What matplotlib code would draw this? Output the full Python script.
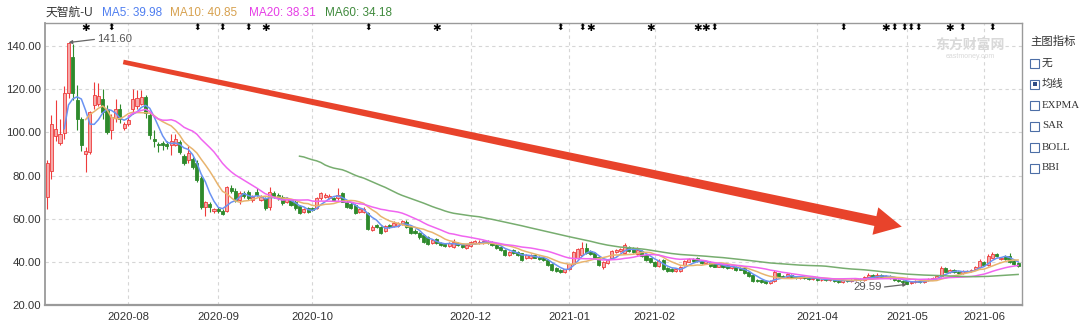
import matplotlib
matplotlib.use('Agg')
import matplotlib.pyplot as plt
import matplotlib.transforms as mtransforms
from matplotlib.patches import Rectangle, Polygon
import numpy as np
import pandas as pd

plt.rcParams['font.family'] = ['Liberation Sans', 'Noto Sans CJK SC', 'DejaVu Sans']

W, H = 1080, 324

#---- header / legend
stock_name = '天智航-U'
ma_labels = ['MA5: 39.98', 'MA10: 40.85', 'MA20: 38.31', 'MA60: 34.18']
ma_windows = [5, 10, 20, 60]
ma_text_colors = ['#4f7ef0', '#d7a14f', '#e63de6', '#3f8a3c']
ma_line_colors = ['#6a92f2', '#e8b46e', '#f065f0', '#77ad6f']

#---- trading calendar (trading days per month)
months = ['2020-07', '2020-08', '2020-09', '2020-10', '2020-11', '2020-12',
          '2021-01', '2021-02', '2021-03', '2021-04', '2021-05', '2021-06']
month_days = [19, 21, 22, 16, 21, 23, 20, 15, 23, 21, 18, 9]
shown_months = ['2020-08', '2020-09', '2020-10', '2020-12', '2021-01',
                '2021-02', '2021-04', '2021-05', '2021-06']

#---- daily prices
opens = [70, 82, 98.5, 95, 99.5, 118, 135, 115, 106, 90, 91, 112.5, 113, 115.5, 111, 101, 106.5, 111, 102,
         104, 111, 112, 113.3, 116.4, 108, 97, 94.7, 95, 94.5, 94, 94, 95.5, 89, 87, 87.7, 86, 79, 65.3, 66.8, 63.7,
         64.5, 63.7, 63.7, 74, 73, 68.5, 72, 72.5, 68.6, 72.5, 68.6, 69.4, 65.5, 71.7, 71, 70.2, 67.9, 68.6, 67.9, 65.9, 63.2, 64.8,
         64.8, 64.8, 69.4, 70.2, 69.5, 69.4, 69.4, 71.7, 67.9, 67, 66.3, 63, 63.2, 62.5, 54.7, 57,
         56, 54.3, 57, 56.6, 56.6, 57.5, 58.6, 56.3, 54.4, 53.5, 52.4, 51.3, 48.9, 50.4, 48.9, 48.2, 47.5, 47, 48.6, 47.8, 46.2,
         47.5, 48.5, 48.6, 48.5, 49.5, 49.3, 47.8, 47, 45.5, 43.2, 45.5, 44.7, 43.9, 41.6, 41.8, 43.2, 42.4, 42, 40.8, 39, 37, 36.2, 35.4,
         36.8, 38.8, 42, 43, 46.5, 45, 43.9, 42.4, 37.8, 39.5, 41.6, 44.5, 45, 44, 47, 46.2, 43.5, 45, 43.2, 41.6,
         39.8, 38.2, 40.8, 37, 36.6, 35.6, 35.6, 38.4, 40.1, 41.5, 41.6, 40.5, 39.4, 40, 38.9,
         37.8, 38.9, 38.4, 37, 37.6, 37.2, 37, 35.4, 33.9, 31.8, 31.4, 31.2, 30.2, 30.9, 34.6, 33.6, 32.8, 34, 33.1, 32.4, 33.1, 32.6, 31.9,
         32.1, 31.4, 31.9, 31.4, 31.9, 31.3, 30.8, 31.4, 30.9, 31.6, 32.1, 31.7, 32.8, 33.8, 33, 33.9, 33, 33.5, 32.6, 31.7, 31.1,
         30.9, 30, 30.7, 31.2, 30.8, 31.5, 31.9, 32.7, 33.5, 37, 35.4, 36.3, 35.5, 34.9, 35.5, 35.6, 36.5, 37.5,
         40, 38.6, 42, 43.8, 41.2, 42.8, 42.5, 40.5, 39.5]
highs = [87, 108, 115, 106, 121.5, 141.6, 141, 122, 107, 93, 110, 123.5, 123, 120, 112.5, 108.5, 115.5, 113, 105,
         108, 120, 119.5, 119.5, 117.5, 109.5, 101, 95.5, 96, 96, 99, 99.4, 96.5, 90, 93.5, 88.5, 87, 80, 68, 67.5, 65,
         65.5, 64.5, 75.3, 75.5, 74, 72.8, 73, 73.5, 70.8, 74, 70.8, 70.2, 74.8, 72.8, 71.8, 70.8, 70, 69.2, 68.5, 66.5, 65, 65.5,
         65.5, 70, 72.5, 72, 71.5, 70, 74, 72.2, 68.5, 67.5, 66.8, 65, 65.3, 63, 57, 57.6,
         56.5, 57.2, 57.6, 58.8, 58.5, 59.6, 59.2, 56.8, 55, 54, 53, 51.8, 50.6, 50.9, 49.4, 48.8, 49.4, 50.4, 49.2, 48.3, 48.3,
         49.8, 50.2, 49.9, 50.1, 50, 49.8, 48.3, 47.4, 46, 45.2, 45.9, 45.1, 44.3, 43.7, 43.7, 43.6, 42.8, 42.4, 41.2, 39.4, 37.4, 36.6, 36.9,
         39.2, 45, 46.5, 49, 48.5, 45.6, 44.4, 42.9, 40.5, 41.5, 45.7, 46, 46.3, 48.6, 47.5, 46.7, 46.7, 45.5, 43.7, 42,
         40.3, 41.2, 41.2, 37.5, 37, 37.2, 38, 41, 41.9, 41.9, 42.2, 40.9, 40.6, 40.4, 39.3,
         39.4, 39.3, 38.8, 38.4, 38, 37.6, 37.4, 35.8, 34.3, 32.2, 31.8, 31.6, 31.6, 36, 35, 34, 35, 34.4, 33.5, 33.6, 33.5, 33, 33,
         32.5, 32.2, 32.3, 32.4, 32.3, 31.7, 31.8, 31.8, 32.1, 32.5, 32.5, 33.4, 34.7, 34.2, 34.8, 34.3, 34, 33.9, 33, 32.1, 31.5,
         31.3, 31.2, 31.6, 31.6, 31.9, 32.4, 32.8, 33.7, 38.3, 37.5, 36.6, 36.7, 35.9, 36, 36.1, 36.7, 38.2, 41.2,
         40.4, 43.5, 44.7, 44.2, 42.3, 43.2, 43.9, 40.9, 39.9]
lows = [64.5, 78.5, 96, 94, 97, 116, 115, 101, 91.5, 81.5, 90, 111, 112, 106, 99, 97, 105, 104.5, 101,
        103, 108.7, 111, 112.5, 106.5, 97, 93, 91, 92, 92.5, 89.5, 93.5, 90, 85, 86, 83, 77, 64.5, 61.4, 63, 62.5,
        62.5, 61.5, 63, 72, 67.5, 67, 69.5, 68.8, 67.5, 70.5, 68, 64, 64, 69.6, 68.8, 66.5, 67.2, 65.8, 64.2, 62, 62.5, 62.8,
        63.5, 64.5, 68.8, 69.5, 69, 68, 68.8, 67.5, 65, 64.3, 62, 62.5, 62.8, 54.8, 54.2, 55.8,
        53, 53.8, 55.5, 56.2, 56, 57, 55.8, 52.8, 53, 50.8, 48.8, 47.8, 48.4, 48.2, 47.4, 46.8, 47.1, 46.6, 47.2, 46.4, 45.8,
        47.1, 48.1, 48.2, 48.1, 48.2, 47.4, 45.8, 45.1, 42.8, 42.8, 43.6, 42.8, 40.4, 41.2, 41.4, 41.6, 40.8, 40.4, 38.1, 35.8, 35.5, 35, 35,
        36.4, 38.4, 41.5, 42.5, 43.5, 43, 41.1, 38, 36.5, 39, 41.2, 44, 44.5, 43.6, 44.6, 44.3, 43.1, 42.4, 40.6, 39.4,
        37.5, 37.8, 36.2, 35.2, 35.3, 35.2, 35.2, 38, 39.7, 40, 39.8, 39, 39, 37.6, 37.4,
        37.4, 37.2, 36.6, 36.6, 35.9, 36, 34.4, 32.9, 30.6, 30.6, 30.1, 29.9, 29.8, 30.5, 32.6, 32.3, 32.4, 32.6, 32, 32, 32, 31.6, 31.5,
        31, 31, 31, 31, 30.8, 30.4, 30.4, 30.5, 30.5, 31.2, 31.3, 31.3, 32.4, 32.6, 32.6, 32.6, 32.6, 32.2, 31.2, 30.6, 30.2,
        29.59, 29.8, 30.3, 30.4, 30.4, 31.1, 31.5, 32.3, 33.1, 35.1, 35, 34.8, 34.4, 34.5, 35.1, 35.2, 36.1, 37.1,
        38.1, 38.2, 41.6, 42.4, 40.8, 41, 39.6, 38.4, 37.5]
closes = [86, 104, 101.5, 99, 118, 141.2, 118, 106, 94, 91.5, 109.5, 117.5, 117, 109.5, 100, 107, 111, 106, 104,
          105.5, 115.5, 116, 116.5, 109, 98.6, 96.2, 94, 94.3, 93.8, 96, 97, 91, 86, 90.5, 84, 77.7, 65.3, 67.6, 65.3, 64.5,
          63.5, 62.3, 74.5, 73, 68.5, 72, 70.5, 69.5, 70.2, 71, 70.2, 64.8, 72.5, 70.2, 69.4, 67.1, 69.4, 66.3, 64.8, 62.5, 64.3, 63.2,
          64, 69.4, 71.7, 71, 70.5, 68.6, 71, 67.9, 65.5, 64.8, 62.5, 64.3, 64.6, 55.2, 56.3, 56.3,
          53.5, 56.6, 56, 58.1, 57.8, 59, 56.3, 53.2, 53.5, 51.3, 49.3, 48.2, 50, 48.6, 47.8, 47.2, 48.9, 49.3, 47.6, 46.8, 47.8,
          49.3, 49.5, 49.3, 49.5, 48.6, 47.8, 46.2, 45.5, 43.2, 44.7, 44, 43.2, 40.8, 43.2, 43.2, 42, 41.2, 40.8, 38.5, 36.2, 35.9, 35.4, 36.5,
          38.8, 44.5, 46, 46.5, 44, 43.5, 41.6, 38.5, 40, 41, 45.2, 45.5, 45.8, 47.8, 45, 44.7, 45.5, 42.8, 41, 39.8,
          37.9, 40.4, 36.6, 35.6, 35.7, 36.8, 37.6, 40.6, 41.4, 40.4, 40.2, 39.4, 40.2, 38, 37.8,
          39, 37.6, 37, 38, 36.3, 36.4, 34.8, 33.3, 31, 31, 30.5, 30.4, 31.2, 35.2, 33, 32.7, 34.2, 33, 32.4, 33.2, 32.4, 32, 32.6,
          31.4, 31.8, 31.4, 32, 31.2, 30.8, 31.4, 30.9, 31.7, 32.1, 31.7, 33, 33.9, 33, 34, 33, 33.6, 32.6, 31.6, 31, 30.6,
          29.9, 30.8, 31.2, 30.8, 31.5, 32, 32.4, 33.3, 37.3, 35.5, 36.2, 35.2, 34.8, 35.6, 35.7, 36.3, 37.8, 40.5,
          38.5, 42.8, 43.8, 42.9, 41.9, 41.4, 40, 38.8, 37.9]

#---- event markers along the top (trading-day index)
star_days = [9, 51, 91, 127, 141, 152, 154, 196, 211]
arrow_days = [15, 35, 41, 47, 75, 120, 125, 156, 186, 198, 201, 202, 203, 214, 221]

#---- right side menu
panel_title = '主图指标'
panel_items = ['无', '均线', 'EXPMA', 'SAR', 'BOLL', 'BBI']
panel_checked = '均线'

RED = '#ee3b3b'
RED_FACE = '#f6a9a9'
GREEN = '#2e8a2c'


def runs(days):
    # group consecutive day indices so adjacent icons share one text
    groups = [[days[0]]]
    for d in days[1:]:
        if d == groups[-1][-1] + 1:
            groups[-1].append(d)
        else:
            groups.append([d])
    return groups


if __name__ == '__main__':

    o = np.array(opens)
    c = np.array(closes)
    hi = np.array(highs)
    lo = np.array(lows)
    x = np.arange(len(c))
    up = c >= o

    month_start = np.concatenate([[0], np.cumsum(month_days)[:-1]])
    tick_pos = [month_start[months.index(m)] for m in shown_months]

    fig = plt.figure(figsize=(W / 100, H / 100), dpi=100)
    ax = fig.add_axes([45 / W, 1 - 305 / H, (1022 - 45) / W, (305 - 23) / H])

    #---- candles
    body_bottom = np.minimum(o, c)
    body_h = np.maximum(np.abs(c - o), 0.3)
    ax.vlines(x[up], lo[up], hi[up], color=RED, lw=0.8, zorder=2)
    ax.vlines(x[~up], lo[~up], hi[~up], color=GREEN, lw=0.8, zorder=2)
    ax.bar(x[up], body_h[up], bottom=body_bottom[up], width=0.72,
           facecolor=RED_FACE, edgecolor=RED, linewidth=0.6, zorder=3)
    ax.bar(x[~up], body_h[~up], bottom=body_bottom[~up], width=0.72,
           facecolor=GREEN, edgecolor=GREEN, linewidth=0.6, zorder=3)

    #---- moving averages
    cs = pd.Series(c)
    for w, col in zip(ma_windows, ma_line_colors):
        ax.plot(x, cs.rolling(w).mean(), color=col, lw=1.1, zorder=4)

    #---- axes styling
    ax.set_xlim(-0.5, 227.9)
    ax.set_ylim(20, 150.66)
    ax.set_yticks(np.arange(20, 141, 20))
    ax.set_yticklabels(['%.2f' % v for v in np.arange(20, 141, 20)])
    ax.set_xticks(tick_pos)
    ax.set_xticklabels(shown_months)
    ax.tick_params(axis='both', length=0, labelsize=8.2, labelcolor='#333333')
    ax.tick_params(axis='y', pad=3)
    ax.tick_params(axis='x', pad=5)
    ax.grid(True, ls=(0, (3, 3)), color='#d6d6d6', lw=0.8, zorder=0)
    for s in ax.spines.values():
        s.set_color('#9a9a9a')
        s.set_linewidth(1.0)
    ax.spines['bottom'].set_linewidth(1.6)
    ax.spines['left'].set_linewidth(1.3)

    #---- event markers
    trans = mtransforms.blended_transform_factory(ax.transData, ax.transAxes)
    for g in runs(star_days):
        ax.text(np.mean(g), 0.982, '✱' * len(g), transform=trans, ha='center', va='center',
                fontsize=7.5, family=['DejaVu Sans'], color='black', zorder=6)
    for g in runs(arrow_days):
        ax.text(np.mean(g), 0.982, '⬍' * len(g), transform=trans, ha='center', va='center',
                fontsize=6.5, family=['DejaVu Sans'], color='black', zorder=6)

    #---- max / min labels
    i_max = int(np.argmax(hi))
    i_min = int(np.argmin(lo))
    ax.annotate('%.2f' % hi[i_max], xy=(i_max, hi[i_max]), xytext=(11.7, 143.2),
                ha='left', va='center', fontsize=8.2, color='#555555',
                arrowprops=dict(arrowstyle='-|>', color='#666666', lw=0.9,
                                mutation_scale=5, shrinkA=0, shrinkB=0, relpos=(0, 0.5)),
                zorder=7)
    ax.annotate('%.2f' % lo[i_min], xy=(i_min, lo[i_min]), xytext=(195.1, 28.2),
                ha='right', va='center', fontsize=8.2, color='#555555',
                arrowprops=dict(arrowstyle='-|>', color='#666666', lw=0.9,
                                mutation_scale=5, shrinkA=0, shrinkB=0, relpos=(1, 0.5)),
                zorder=7)

    #---- header legend
    fig.text(46 / W, 1 - 13 / H, stock_name, fontsize=8.5, color='#333333', va='center')
    for lab, col, px in zip(ma_labels, ma_text_colors, [102, 170, 249, 325]):
        fig.text(px / W, 1 - 13 / H, lab, fontsize=8.5, color=col, va='center')

    #---- watermark
    fig.text(970 / W, 1 - 45 / H, '东方财富网', fontsize=10, color='#d9d9d9',
             ha='center', va='center', fontweight='bold')
    fig.text(970 / W, 1 - 57 / H, 'eastmoney.com', fontsize=5, color='#d9d9d9',
             ha='center', va='center')

    #---- big trend arrow (drawn in pixel space from data anchors)
    p0 = ax.transData.transform((17.8, 132.6))
    p1 = ax.transData.transform((199.8, 56.3))
    u = (p1 - p0) / np.hypot(*(p1 - p0))
    n = np.array([-u[1], u[0]])
    head_len, head_hw, tail_hw, neck_hw = 27, 14, 2.3, 5.0
    base = p1 - u * head_len
    pts = [p0 + n * tail_hw, base + n * neck_hw, base + n * head_hw, p1,
           base - n * head_hw, base - n * neck_hw, p0 - n * tail_hw]
    pts = fig.transFigure.inverted().transform(np.array(pts))
    fig.add_artist(Polygon(pts, closed=True, transform=fig.transFigure,
                           facecolor='#e8432b', edgecolor='none', zorder=10))

    #---- side menu
    fig.text(1030 / W, 1 - 41 / H, panel_title, fontsize=8.2, color='#333333', va='center')
    for k, item in enumerate(panel_items):
        yc = 63 + 21 * k
        fig.add_artist(Rectangle((1030 / W, 1 - (yc + 4.5) / H), 9 / W, 9 / H,
                                 transform=fig.transFigure, fill=False,
                                 edgecolor='#4c6ea6', lw=0.8))
        if item == panel_checked:
            fig.add_artist(Rectangle((1032.5 / W, 1 - (yc + 2) / H), 4 / W, 4 / H,
                                     transform=fig.transFigure, facecolor='#2f4d86',
                                     edgecolor='none'))
        fig.text(1042 / W, 1 - yc / H, item, fontsize=7.8, color='#333333', va='center',
                 family=['Liberation Serif', 'Noto Sans CJK SC'])

    fig.savefig('out.png', dpi=100)
